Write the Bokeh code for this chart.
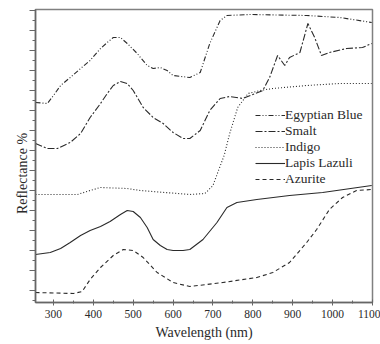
from bokeh.plotting import figure
from bokeh.models import FixedTicker, Legend, LegendItem, Range1d
from bokeh.embed import file_html
from bokeh.resources import INLINE

# Wavelength (nm) / reflectance (arbitrary, offset units)
eb_wl = [255, 285, 300, 318, 342, 368, 392, 418, 435, 450, 468, 485, 510, 535, 550, 568, 585, 600, 642, 668, 692, 718, 735, 792, 935, 1018, 1098]
eb_r = [10.0, 9.95, 10.35, 10.85, 11.25, 11.7, 12.1, 12.7, 13.0, 13.25, 13.25, 12.95, 12.45, 11.85, 11.7, 11.75, 11.6, 11.35, 11.25, 11.5, 12.95, 14.1, 14.35, 14.4, 14.35, 14.25, 14.0]

sm_wl = [255, 285, 310, 342, 368, 392, 418, 435, 450, 468, 485, 500, 525, 550, 575, 600, 625, 642, 668, 692, 718, 742, 775, 825, 842, 862, 880, 892, 918, 938, 955, 972, 992, 1035, 1075, 1098]
sm_r = [7.95, 7.7, 7.7, 8.0, 8.45, 9.25, 9.95, 10.45, 10.85, 11.05, 10.95, 10.6, 9.75, 9.25, 8.95, 8.5, 8.2, 8.2, 8.6, 9.6, 10.2, 10.3, 10.2, 10.6, 11.25, 12.35, 11.85, 12.25, 12.5, 13.95, 13.25, 12.35, 12.5, 12.7, 12.75, 12.95]

in_wl = [255, 360, 392, 418, 485, 518, 642, 680, 700, 712, 728, 742, 762, 788, 818, 850, 935, 1018, 1098]
in_r = [5.4, 5.4, 5.6, 5.75, 5.7, 5.6, 5.4, 5.45, 5.85, 6.5, 7.35, 8.45, 9.75, 10.45, 10.6, 10.7, 10.85, 10.95, 10.95]

ll_wl = [255, 292, 318, 342, 368, 392, 418, 442, 468, 485, 500, 518, 535, 550, 568, 585, 600, 625, 642, 675, 710, 735, 760, 810, 892, 975, 1098]
ll_r = [2.4, 2.5, 2.7, 3.0, 3.35, 3.6, 3.8, 4.05, 4.4, 4.6, 4.55, 4.25, 3.75, 3.15, 2.85, 2.65, 2.6, 2.6, 2.65, 3.15, 4.0, 4.75, 5.0, 5.15, 5.35, 5.5, 5.85]

az_wl = [255, 350, 372, 392, 418, 450, 475, 500, 525, 560, 600, 642, 725, 810, 850, 892, 935, 960, 992, 1025, 1060, 1098]
az_r = [0.5, 0.45, 0.55, 1.15, 1.75, 2.35, 2.65, 2.6, 2.25, 1.5, 1.0, 0.8, 1.0, 1.25, 1.5, 2.0, 3.0, 3.65, 4.65, 5.25, 5.6, 5.65]

x_ticks = [300, 400, 500, 600, 700, 800, 900, 1000, 1100]
x_minor = [350, 450, 550, 650, 750, 850, 950, 1050]
y_ticks = [0.6 + i for i in range(15)]
y_minor = [0.1 + i for i in range(15)]

names = ["Egyptian Blue", "Smalt", "Indigo", "Lapis Lazuli", "Azurite"]
dashes = ["5 2 1 2 1 2", "7 2 2 2", "1 2", "solid", "4 3"]
series = [(eb_wl, eb_r), (sm_wl, sm_r), (in_wl, in_r), (ll_wl, ll_r), (az_wl, az_r)]

FONT = "Liberation Serif"
INK = "#2a2a2a"
AX = "#666666"

p = figure(width=380, height=344, output_backend="svg", toolbar_location=None,
           x_range=Range1d(255, 1100), y_range=Range1d(0, 14.65),
           min_border_left=35, min_border_top=9, min_border_right=8, min_border_bottom=42)
p.background_fill_color = "white"
p.border_fill_color = "white"
p.grid.visible = False
p.outline_line_color = "#808080"
p.outline_line_width = 1.5

items = []
for name, dash, (wl, r) in zip(names, dashes, series):
    rr = p.line(wl, r, line_color=INK, line_width=1.1, line_dash=dash)
    items.append(LegendItem(label=name, renderers=[rr]))

legend = Legend(items=items, location=(220, 115), orientation="vertical",
                background_fill_alpha=0, border_line_alpha=0,
                glyph_width=30, glyph_height=16, label_height=16, spacing=0,
                padding=0, margin=0, label_standoff=0,
                label_text_font=FONT, label_text_font_size="13.5px", label_text_color=INK)
p.add_layout(legend)

xa = p.xaxis[0]
xa.ticker = FixedTicker(ticks=x_ticks, minor_ticks=x_minor)
xa.axis_line_color = AX
xa.axis_line_width = 1.5
xa.major_tick_line_color = AX
xa.minor_tick_line_color = AX
xa.major_tick_in = 3
xa.major_tick_out = 3
xa.minor_tick_in = 2
xa.minor_tick_out = 1
xa.major_label_text_font = FONT
xa.major_label_text_font_size = "11.5px"
xa.major_label_text_color = INK
xa.major_label_standoff = 4
xa.axis_label = "Wavelength (nm)"
xa.axis_label_text_font = FONT
xa.axis_label_text_font_size = "14px"
xa.axis_label_text_font_style = "normal"
xa.axis_label_text_color = INK
xa.axis_label_standoff = 4

ya = p.yaxis[0]
ya.ticker = FixedTicker(ticks=y_ticks, minor_ticks=y_minor)
ya.axis_line_color = AX
ya.axis_line_width = 1.5
ya.major_tick_line_color = AX
ya.minor_tick_line_color = AX
ya.major_tick_in = 0
ya.major_tick_out = 6
ya.minor_tick_in = 0
ya.minor_tick_out = 3
ya.major_label_overrides = {t: "" for t in y_ticks}
ya.axis_label = "Reflectance %" + "\u00a0" * 10
ya.axis_label_text_font = FONT
ya.axis_label_text_font_size = "14px"
ya.axis_label_text_font_style = "normal"
ya.axis_label_text_color = INK
ya.axis_label_standoff = 0

open("out.html", "w").write(file_html(p, INLINE))
